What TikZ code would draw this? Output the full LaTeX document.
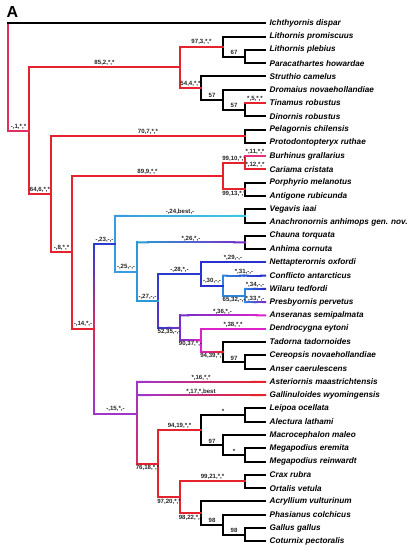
\documentclass[tikz,border=0pt]{standalone}
\usepackage{fontspec}
\setmainfont{Liberation Sans}
\usetikzlibrary{calc}

\definecolor{tred}{HTML}{E4232E}
\definecolor{tpink}{HTML}{E2305E}
\definecolor{trose}{HTML}{E8307C}
\definecolor{tcrimson}{HTML}{D42A66}
\definecolor{tblue}{HTML}{2C3CCF}
\definecolor{tindigo}{HTML}{2A30CE}
\definecolor{tsky}{HTML}{3A9CE0}
\definecolor{tteal}{HTML}{2A9AD6}
\definecolor{tcyan}{HTML}{3EC6E0}
\definecolor{tazure}{HTML}{2E86DE}
\definecolor{tpurple}{HTML}{7430C8}
\definecolor{tviolet}{HTML}{A235C8}
\definecolor{tmagenta}{HTML}{DC22C8}

\newcommand{\taxfont}{\fontsize{8.2}{9}\selectfont\bfseries\itshape}
\newcommand{\supfont}{\fontsize{6.1}{6.5}\selectfont\bfseries}
\tikzstyle{branch} = [line width=2pt, line cap=rect]
\tikzstyle{taxon} = [anchor=west, inner xsep=4.5pt, inner ysep=0pt, font=\taxfont]
\tikzstyle{suplab} = [midway, inner sep=0.8pt, font=\supfont, text=black!85]

% branch whose colour runs from #3 to #4, label node #5
\newcommand{\gbranch}[5]{%
  \foreach \k in {0,...,9}{%
    \pgfmathsetmacro{\ta}{\k/10}\pgfmathsetmacro{\tb}{(\k+1)/10}%
    \pgfmathtruncatemacro{\pc}{100-\k*100/9}%
    \draw[branch, color=#3!\pc!#4] ($(#1)!\ta!(#2)$) -- ($(#1)!\tb!(#2)$);}
  \path (#1) -- (#2) #5;}

\begin{document}
\begin{tikzpicture}[x=1pt, y=-1pt]
    \useasboundingbox (0,0) rectangle (412,550);
    \node[font=\fontsize{16}{16}\selectfont\bfseries] (panel) at (12.5,11.5) {A};

    % Taxa
    \node[taxon] (ichd) at (265,23.30) {Ichthyornis dispar};
    \node[taxon] (lipr) at (265,36.58) {Lithornis promiscuus};
    \node[taxon] (lipl) at (265,49.86) {Lithornis plebius};
    \node[taxon] (paho) at (265,63.14) {Paracathartes howardae};
    \node[taxon] (stca) at (265,76.42) {Struthio camelus};
    \node[taxon] (drno) at (265,89.70) {Dromaius novaehollandiae};
    \node[taxon] (tiro) at (265,102.98) {Tinamus robustus};
    \node[taxon] (diro) at (265,116.26) {Dinornis robustus};
    \node[taxon] (pech) at (265,129.54) {Pelagornis chilensis};
    \node[taxon] (prru) at (265,142.82) {Protodontopteryx ruthae};
    \node[taxon] (bugr) at (265,156.10) {Burhinus grallarius};
    \node[taxon] (cacr) at (265,169.38) {Cariama cristata};
    \node[taxon] (pome) at (265,182.66) {Porphyrio melanotus};
    \node[taxon] (anru) at (265,195.94) {Antigone rubicunda};
    \node[taxon] (veia) at (265,209.22) {Vegavis iaai};
    \node[taxon] (anan) at (265,222.50) {Anachronornis anhimops gen. nov.};
    \node[taxon] (chto) at (265,235.78) {Chauna torquata};
    \node[taxon] (anco) at (265,249.06) {Anhima cornuta};
    \node[taxon] (neox) at (265,262.34) {Nettapterornis oxfordi};
    \node[taxon] (coan) at (265,275.62) {Conflicto antarcticus};
    \node[taxon] (wite) at (265,288.90) {Wilaru tedfordi};
    \node[taxon] (prpe) at (265,302.18) {Presbyornis pervetus};
    \node[taxon] (anse) at (265,315.46) {Anseranas semipalmata};
    \node[taxon] (deey) at (265,328.74) {Dendrocygna eytoni};
    \node[taxon] (tata) at (265,342.02) {Tadorna tadornoides};
    \node[taxon] (ceno) at (265,355.30) {Cereopsis novaehollandiae};
    \node[taxon] (anca) at (265,368.58) {Anser caerulescens};
    \node[taxon] (asma) at (265,381.86) {Asteriornis maastrichtensis};
    \node[taxon] (gawy) at (265,395.14) {Gallinuloides wyomingensis};
    \node[taxon] (leoc) at (265,408.42) {Leipoa ocellata};
    \node[taxon] (alla) at (265,421.70) {Alectura lathami};
    \node[taxon] (mama) at (265,434.98) {Macrocephalon maleo};
    \node[taxon] (meer) at (265,448.26) {Megapodius eremita};
    \node[taxon] (mere) at (265,461.54) {Megapodius reinwardt};
    \node[taxon] (crru) at (265,474.82) {Crax rubra};
    \node[taxon] (orve) at (265,488.10) {Ortalis vetula};
    \node[taxon] (acvu) at (265,501.38) {Acryllium vulturinum};
    \node[taxon] (phco) at (265,514.66) {Phasianus colchicus};
    \node[taxon] (gaga) at (265,527.94) {Gallus gallus};
    \node[taxon] (copr) at (265,541.22) {Coturnix pectoralis};

    % Clades
    \coordinate (root) at (8,77.04);
    \coordinate (c1) at (29,130.78);
    \coordinate (c2) at (180,67.29);
    \coordinate (c3) at (223,46.54);
    \coordinate (lith67) at (245,56.50);
    \coordinate (c4) at (201,88.04);
    \coordinate (dro57) at (223,99.66);
    \coordinate (tin57) at (245,109.62);
    \coordinate (c6) at (51,194.26);
    \coordinate (c7) at (245,136.18);
    \coordinate (c8) at (72,252.34);
    \coordinate (c9) at (223,176.02);
    \coordinate (c10) at (245,162.74);
    \coordinate (c13) at (245,189.30);
    \coordinate (c14) at (94,328.66);
    \coordinate (c23) at (115,243.77);
    \coordinate (c24) at (245,215.86);
    \coordinate (c25) at (137,271.68);
    \coordinate (c26) at (245,242.42);
    \coordinate (c27) at (158,300.94);
    \coordinate (c28) at (201,273.96);
    \coordinate (c30) at (223,285.58);
    \coordinate (c32) at (245,295.54);
    \coordinate (c35) at (180,327.91);
    \coordinate (c37) at (201,340.36);
    \coordinate (c39) at (223,351.98);
    \coordinate (ans97) at (245,361.94);
    \coordinate (c15) at (137,413.54);
    \coordinate (c18) at (158,463.62);
    \coordinate (c19) at (201,430.00);
    \coordinate (leal) at (245,415.06);
    \coordinate (meg97) at (223,444.94);
    \coordinate (megs) at (245,454.90);
    \coordinate (c20) at (180,497.23);
    \coordinate (c21) at (245,481.46);
    \coordinate (c22) at (201,513.00);
    \coordinate (pha98) at (223,524.62);
    \coordinate (gal98) at (245,534.58);

    % Stems
    \draw[branch, tpink] (root |- ichd) -- (root |- c1);
    \draw[branch, tred] (c1 |- c2) -- (c1 |- c6);
    \draw[branch, tred] (c2 |- c3) -- (c2 |- c4);
    \draw[branch] (c3 |- lipr) -- (c3 |- lith67);
    \draw[branch] (lith67 |- lipl) -- (lith67 |- paho);
    \draw[branch] (c4 |- stca) -- (c4 |- dro57);
    \draw[branch] (dro57 |- drno) -- (dro57 |- tin57);
    \draw[branch] (tin57 |- tiro) -- (tin57 |- diro);
    \draw[branch, tred] (c6 |- c7) -- (c6 |- c8);
    \draw[branch] (c7 |- pech) -- (c7 |- prru);
    \draw[branch, tred] (c8 |- c9) -- (c8 |- c14);
    \draw[branch, tred] (c9 |- c10) -- (c9 |- c13);
    \draw[branch, tred] (c10 |- bugr) -- (c10 |- cacr);
    \draw[branch] (c13 |- pome) -- (c13 |- anru);
    \gbranch{c14 |- c23}{c14}{tblue}{tcrimson}{}
    \gbranch{c14}{c14 |- c15}{tcrimson}{tviolet}{}
    \draw[branch, tsky] (c23 |- c24) -- (c23 |- c25);
    \draw[branch] (c24 |- veia) -- (c24 |- anan);
    \draw[branch, tteal] (c25 |- c26) -- (c25 |- c27);
    \draw[branch] (c26 |- chto) -- (c26 |- anco);
    \gbranch{c27 |- c28}{c27 |- c35}{tblue}{tpurple!60!tblue}{}
    \draw[branch, tindigo] (c28 |- neox) -- (c28 |- c30);
    \draw[branch, tazure] (c30 |- coan) -- (c30 |- c32);
    \draw[branch, tazure] (c32 |- wite) -- (c32 |- prpe);
    \draw[branch, tpurple] (c35 |- anse) -- (c35 |- c37);
    \draw[branch, tmagenta] (c37 |- deey) -- (c37 |- c39);
    \draw[branch] (c39 |- tata) -- (c39 |- ans97);
    \draw[branch] (ans97 |- ceno) -- (ans97 |- anca);
    \gbranch{c15 |- asma}{c15 |- c18}{tviolet}{tcrimson}{}
    \draw[branch, tred] (c18 |- c19) -- (c18 |- c20);
    \draw[branch] (c19 |- leal) -- (c19 |- meg97);
    \draw[branch] (leal |- leoc) -- (leal |- alla);
    \draw[branch] (meg97 |- mama) -- (meg97 |- megs);
    \draw[branch] (megs |- meer) -- (megs |- mere);
    \draw[branch, tred] (c20 |- c21) -- (c20 |- c22);
    \draw[branch] (c21 |- crru) -- (c21 |- orve);
    \draw[branch] (c22 |- acvu) -- (c22 |- pha98);
    \draw[branch] (pha98 |- phco) -- (pha98 |- gal98);
    \draw[branch] (gal98 |- gaga) -- (gal98 |- copr);

    % Branches
    \draw[branch] (root |- ichd) -- (ichd.west);
    \draw[branch, tpink] (root |- c1) -- (c1) node[suplab, above] {-,1,*,*};
    \draw[branch, tred] (c1 |- c2) -- (c2) node[suplab, above] {85,2,*,*};
    \draw[branch, tred] (c2 |- c3) -- (c3) node[suplab, above] {97,3,*,*};
    \draw[branch] (c3 |- lipr) -- (lipr.west);
    \draw[branch] (c3 |- lith67) -- (lith67) node[suplab, above] {67};
    \draw[branch] (lith67 |- lipl) -- (lipl.west);
    \draw[branch] (lith67 |- paho) -- (paho.west);
    \draw[branch, tred] (c2 |- c4) -- (c4) node[suplab, above] {54,4,*,*};
    \draw[branch] (c4 |- stca) -- (stca.west);
    \draw[branch] (c4 |- dro57) -- (dro57) node[suplab, above] {57};
    \draw[branch] (dro57 |- drno) -- (drno.west);
    \draw[branch] (dro57 |- tin57) -- (tin57) node[suplab, above] {57};
    \draw[branch, tred] (tin57 |- tiro) -- (tiro.west) node[suplab, above] {*,5,*,*};
    \draw[branch] (tin57 |- diro) -- (diro.west);
    \draw[branch, tred] (c1 |- c6) -- (c6) node[suplab, above] {64,6,*,*};
    \draw[branch, tred] (c6 |- c7) -- (c7) node[suplab, above] {70,7,*,*};
    \draw[branch] (c7 |- pech) -- (pech.west);
    \draw[branch] (c7 |- prru) -- (prru.west);
    \draw[branch, tred] (c6 |- c8) -- (c8) node[suplab, above] {-,8,*,*};
    \draw[branch, tred] (c8 |- c9) -- (c9) node[suplab, above] {89,9,*,*};
    \draw[branch, tred] (c9 |- c10) -- (c10) node[suplab, above] {99,10,*,*};
    \draw[branch, trose] (c10 |- bugr) -- (bugr.west) node[suplab, above] {*,11,*,*};
    \draw[branch, tred] (c10 |- cacr) -- (cacr.west) node[suplab, above] {*,12,*,*};
    \draw[branch, tred] (c9 |- c13) -- (c13) node[suplab, below] {99,13,*,*};
    \draw[branch] (c13 |- pome) -- (pome.west);
    \draw[branch] (c13 |- anru) -- (anru.west);
    \draw[branch, tred] (c8 |- c14) -- (c14) node[suplab, above] {-,14,*,-};
    \draw[branch, tblue] (c14 |- c23) -- (c23) node[suplab, above] {-,23,-,-};
    \gbranch{c23 |- c24}{c24}{tsky}{tcyan}{node[suplab, above] {-,24,best,-}}
    \draw[branch] (c24 |- veia) -- (veia.west);
    \draw[branch] (c24 |- anan) -- (anan.west);
    \draw[branch, tsky] (c23 |- c25) -- (c25) node[suplab, above] {-,25,-,-};
    \gbranch{c25 |- c26}{c26}{tteal}{tpurple}{node[suplab, above] {*,26,*,-}}
    \draw[branch] (c26 |- chto) -- (chto.west);
    \draw[branch] (c26 |- anco) -- (anco.west);
    \draw[branch, tteal] (c25 |- c27) -- (c27) node[suplab, above] {-,27,-,-};
    \draw[branch, tblue] (c27 |- c28) -- (c28) node[suplab, above] {-,28,*,-};
    \draw[branch, tindigo] (c28 |- neox) -- (neox.west) node[suplab, above] {*,29,-,-};
    \draw[branch, tindigo] (c28 |- c30) -- (c30) node[suplab, above] {-,30,-,-};
    \gbranch{c30 |- coan}{coan.west}{tazure}{tindigo}{node[suplab, above] {*,31,-,-}}
    \draw[branch, tazure] (c30 |- c32) -- (c32) node[suplab, below] {65,32,-,-};
    \gbranch{c32 |- wite}{wite.west}{tazure}{tindigo}{node[suplab, above] {*,34,-,-}}
    \gbranch{c32 |- prpe}{prpe.west}{tazure}{tpurple}{node[suplab, above] {*,33,*,-}}
    \gbranch{c27 |- c35}{c35}{tblue}{tpurple}{node[suplab, below] {52,35,-,-}}
    \gbranch{c35 |- anse}{anse.west}{tpurple}{tmagenta}{node[suplab, above] {*,36,*,-}}
    \gbranch{c35 |- c37}{c37}{tpurple}{tmagenta}{node[suplab, below] {90,37,*,-}}
    \draw[branch, tmagenta] (c37 |- deey) -- (deey.west) node[suplab, above] {*,38,*,*};
    \gbranch{c37 |- c39}{c39}{tmagenta}{tred}{node[suplab, below] {94,39,*,*}}
    \draw[branch] (c39 |- tata) -- (tata.west);
    \draw[branch] (c39 |- ans97) -- (ans97) node[suplab, above] {97};
    \draw[branch] (ans97 |- ceno) -- (ceno.west);
    \draw[branch] (ans97 |- anca) -- (anca.west);
    \draw[branch, tviolet] (c14 |- c15) -- (c15) node[suplab, above] {-,15,*,-};
    \gbranch{c15 |- asma}{asma.west}{tviolet}{tred}{node[suplab, above] {*,16,*,*}}
    \gbranch{c15 |- gawy}{gawy.west}{tviolet}{tred}{node[suplab, above] {*,17,*,best}}
    \draw[branch, tred] (c15 |- c18) -- (c18) node[suplab, below] {76,18,*,*};
    \draw[branch, tred] (c18 |- c19) -- (c19) node[suplab, above] {94,19,*,*};
    \draw[branch] (c19 |- leal) -- (leal) node[suplab, above] {*};
    \draw[branch] (leal |- leoc) -- (leoc.west);
    \draw[branch] (leal |- alla) -- (alla.west);
    \draw[branch] (c19 |- meg97) -- (meg97) node[suplab, above] {97};
    \draw[branch] (meg97 |- mama) -- (mama.west);
    \draw[branch] (meg97 |- megs) -- (megs) node[suplab, above] {*};
    \draw[branch] (megs |- meer) -- (meer.west);
    \draw[branch] (megs |- mere) -- (mere.west);
    \draw[branch, tred] (c18 |- c20) -- (c20) node[suplab, below] {97,20,*,*};
    \draw[branch, tred] (c20 |- c21) -- (c21) node[suplab, above] {99,21,*,*};
    \draw[branch] (c21 |- crru) -- (crru.west);
    \draw[branch] (c21 |- orve) -- (orve.west);
    \draw[branch, tred] (c20 |- c22) -- (c22) node[suplab, below] {98,22,*,*};
    \draw[branch] (c22 |- acvu) -- (acvu.west);
    \draw[branch] (c22 |- pha98) -- (pha98) node[suplab, above] {98};
    \draw[branch] (pha98 |- phco) -- (phco.west);
    \draw[branch] (pha98 |- gal98) -- (gal98) node[suplab, above] {98};
    \draw[branch] (gal98 |- gaga) -- (gaga.west);
    \draw[branch] (gal98 |- copr) -- (copr.west);
\end{tikzpicture}
\end{document}
